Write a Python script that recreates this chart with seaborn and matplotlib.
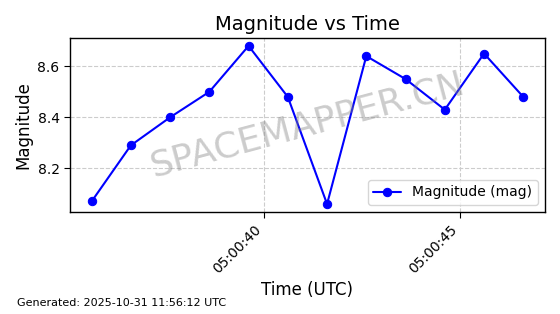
import matplotlib
matplotlib.use("Agg")
import matplotlib.pyplot as plt
import matplotlib.dates as mdates
import seaborn as sns
import pandas as pd

times = ["2025-10-31 05:00:35.612", "2025-10-31 05:00:36.612", "2025-10-31 05:00:37.612",
         "2025-10-31 05:00:38.612", "2025-10-31 05:00:39.612", "2025-10-31 05:00:40.612",
         "2025-10-31 05:00:41.612", "2025-10-31 05:00:42.612", "2025-10-31 05:00:43.612",
         "2025-10-31 05:00:44.612", "2025-10-31 05:00:45.612", "2025-10-31 05:00:46.612"]
magnitudes = [8.07, 8.29, 8.40, 8.50, 8.68, 8.48, 8.06, 8.64, 8.55, 8.43, 8.65, 8.48]

df = pd.DataFrame({"time": pd.to_datetime(times), "mag": magnitudes})

sns.set_style("white")
plt.rcParams["font.family"] = ["DejaVu Sans"]
plt.rcParams.update({"text.color": "black", "axes.labelcolor": "black",
                     "xtick.color": "black", "ytick.color": "black"})

fig = plt.figure(figsize=(5.6, 3.14), dpi=100)
ax = fig.add_axes([0.125, 0.325, 0.848, 0.554])

sns.lineplot(data=df, x="time", y="mag", ax=ax, color="blue", marker="o",
             markersize=6, markeredgecolor="blue", linewidth=1.5, label="Magnitude (mag)")

ax.set_title("Magnitude vs Time", fontsize=14, color="black")
ax.set_xlabel("Time (UTC)", fontsize=12)
ax.set_ylabel("Magnitude", fontsize=12)
ax.grid(True, linestyle="--", color="#cccccc", linewidth=0.8)
for s in ax.spines.values():
    s.set_color("black")
    s.set_linewidth(1.0)

ax.xaxis.set_major_locator(mdates.SecondLocator(bysecond=range(0, 60, 5)))
ax.xaxis.set_major_formatter(mdates.DateFormatter("%H:%M:%S"))
ax.tick_params(axis="both", which="major", labelsize=10, length=4, direction="out",
               bottom=True, left=True, color="black", labelcolor="black")
plt.setp(ax.get_xticklabels(), rotation=45, ha="right")
ax.set_yticks([8.2, 8.4, 8.6])

leg = ax.legend(loc="lower right", fontsize=10)
for t in leg.get_texts():
    t.set_color("black")

ax.text(0.5, 0.5, "SPACEMAPPER.CN", transform=ax.transAxes, fontsize=26,
        color="gray", alpha=0.4, rotation=15, ha="center", va="center")

fig.text(0.03, 0.02, "Generated: 2025-10-31 11:56:12 UTC", fontsize=8, ha="left", va="bottom",
         color="black")

fig.savefig("out.png", dpi=100)
